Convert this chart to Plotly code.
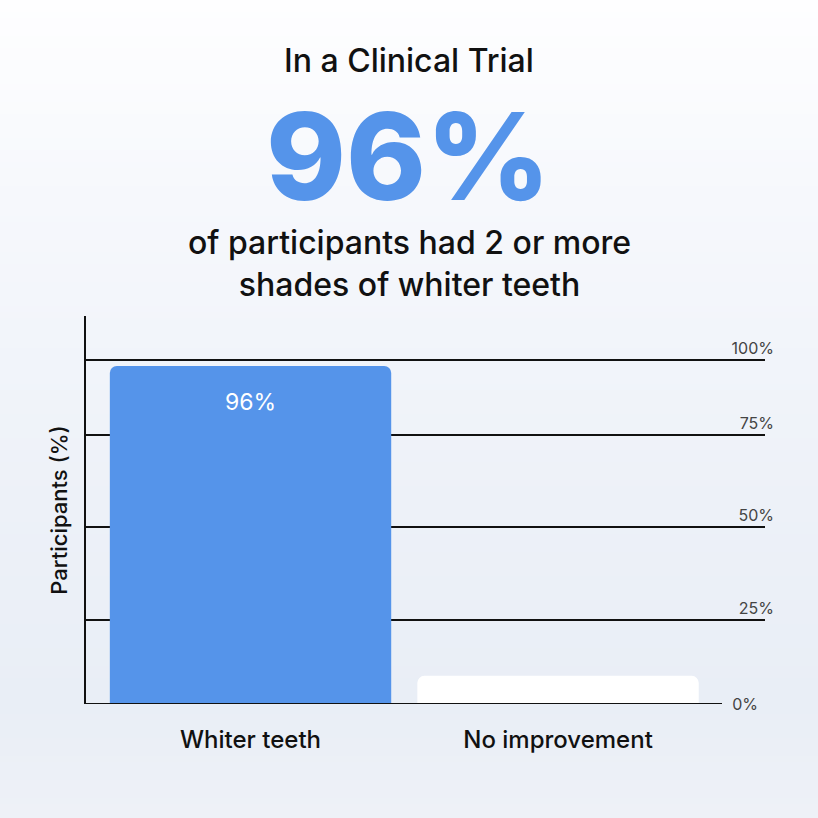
import plotly.graph_objects as go

CATEGORIES = ["Whiter teeth", "No improvement"]
PARTICIPANTS = [96, 8]
BAR_LABELS = ["96%", ""]
BAR_COLORS = ["#5594EA", "#FFFFFF"]

GRID_VALUES = [0, 23.9, 50.3, 76.4, 97.7]
GRID_TEXT = ["0%", "25%", "50%", "75%", "100%"]

TITLE = "In a Clinical Trial"
HEADLINE = "96%"
SUBTITLE = "of participants had 2 or more<br>shades of whiter teeth"

WIDTH = 818
HEIGHT = 818
PLOT_TOP = 316
PLOT_BOTTOM = 704
PLOT_LEFT = 86
PLOT_RIGHT = 765
FONT = "Inter, 'Noto Sans', Arial, sans-serif"

# background gradient stops: (pixel y, rgb)
BG_STOPS = [
    (0, (254, 254, 255)),
    (200, (246, 248, 252)),
    (500, (237, 241, 248)),
    (700, (233, 238, 246)),
    (818, (238, 241, 247)),
]


def py(pixel):
    return (PLOT_BOTTOM - pixel) / (PLOT_BOTTOM - PLOT_TOP)


def px(pixel):
    return (pixel - PLOT_LEFT) / (PLOT_RIGHT - PLOT_LEFT)


def bg_color(pixel):
    for (y0, c0), (y1, c1) in zip(BG_STOPS, BG_STOPS[1:]):
        if y0 <= pixel <= y1:
            t = (pixel - y0) / (y1 - y0)
            rgb = [round(a + (b - a) * t) for a, b in zip(c0, c1)]
            return f"rgb({rgb[0]},{rgb[1]},{rgb[2]})"
    return "rgb(238,241,247)"


fig = go.Figure()
fig.add_trace(
    go.Bar(
        x=CATEGORIES,
        y=PARTICIPANTS,
        width=0.915,
        marker={"color": BAR_COLORS, "cornerradius": 7, "line": {"width": 0}},
        hoverinfo="skip",
        showlegend=False,
    )
)
# invisible companions so the right-hand label axes render
for axis in ("y2", "y3"):
    fig.add_trace(
        go.Scatter(
            x=CATEGORIES,
            y=PARTICIPANTS,
            yaxis=axis,
            mode="markers",
            marker={"opacity": 0},
            hoverinfo="skip",
            showlegend=False,
        )
    )

shapes = []
step = 6
for top in range(0, HEIGHT, step):
    shapes.append(
        {
            "type": "rect",
            "xref": "paper",
            "yref": "paper",
            "x0": px(0),
            "x1": px(WIDTH),
            "y0": py(top + step + 1),
            "y1": py(top),
            "fillcolor": bg_color(top + step / 2),
            "line": {"width": 0},
            "layer": "below",
        }
    )
# baseline stops short of the 0% label
shapes.append(
    {
        "type": "line",
        "xref": "paper",
        "yref": "y",
        "x0": 0,
        "x1": px(722),
        "y0": 0,
        "y1": 0,
        "line": {"color": "#111111", "width": 2},
        "layer": "above",
    }
)

header = {"xref": "paper", "yref": "paper", "xanchor": "center", "yanchor": "middle", "showarrow": False}
annotations = [
    {
        **header,
        "text": TITLE,
        "x": px(409),
        "y": py(61),
        "font": {"family": FONT, "size": 32, "color": "#111111", "weight": 500},
    },
    {
        **header,
        "text": HEADLINE,
        "x": px(408),
        "y": py(156),
        "font": {"family": FONT, "size": 121, "color": "#5594EA", "weight": 800},
    },
    {
        **header,
        "text": SUBTITLE,
        "x": px(409),
        "y": py(263),
        "font": {"family": FONT, "size": 32, "color": "#111111", "weight": 500},
    },
]
for category, value, label in zip(CATEGORIES, PARTICIPANTS, BAR_LABELS):
    if label:
        annotations.append(
            {
                "text": label,
                "x": category,
                "y": value,
                "xref": "x",
                "yref": "y",
                "yanchor": "middle",
                "yshift": -36,
                "showarrow": False,
                "font": {"family": FONT, "size": 23, "color": "#FFFFFF"},
            }
        )

y_range = [0, 110.2]
fig.update_layout(
    width=WIDTH,
    height=HEIGHT,
    margin={"l": PLOT_LEFT, "r": WIDTH - PLOT_RIGHT, "t": PLOT_TOP, "b": HEIGHT - PLOT_BOTTOM, "pad": 0},
    paper_bgcolor="#F4F6FA",
    plot_bgcolor="rgba(0,0,0,0)",
    font={"family": FONT, "color": "#111111"},
    shapes=shapes,
    annotations=annotations,
    showlegend=False,
    xaxis={
        "type": "category",
        "range": [-0.535, 1.673],
        "showgrid": False,
        "zeroline": False,
        "showline": False,
        "ticks": "",
        "ticklabelstandoff": 19,
        "tickfont": {"family": FONT, "size": 24, "color": "#111111", "weight": 500},
        "fixedrange": True,
    },
    yaxis={
        "range": y_range,
        "tickvals": GRID_VALUES,
        "showticklabels": False,
        "ticks": "",
        "showgrid": True,
        "gridcolor": "#111111",
        "gridwidth": 1.5,
        "zeroline": False,
        "showline": True,
        "linecolor": "#111111",
        "linewidth": 2,
        "title": {
            "text": "Participants (%)",
            "standoff": 10,
            "font": {"family": FONT, "size": 22, "color": "#111111", "weight": 500},
        },
    },
    yaxis2={
        "overlaying": "y",
        "side": "right",
        "range": y_range,
        "tickvals": GRID_VALUES[1:],
        "ticktext": GRID_TEXT[1:],
        "ticks": "",
        "ticklabelposition": "inside top",
        "ticklabelstandoff": -12,
        "ticklabeloverflow": "allow",
        "showgrid": False,
        "zeroline": False,
        "showline": False,
        "tickfont": {"family": FONT, "size": 16, "color": "#444444"},
    },
    yaxis3={
        "overlaying": "y",
        "side": "right",
        "range": y_range,
        "tickvals": GRID_VALUES[:1],
        "ticktext": GRID_TEXT[:1],
        "ticks": "",
        "ticklabelposition": "inside",
        "ticklabelstandoff": 4,
        "ticklabeloverflow": "allow",
        "showgrid": False,
        "zeroline": False,
        "showline": False,
        "tickfont": {"family": FONT, "size": 16, "color": "#444444"},
    },
)

fig.write_html(
    "out.html",
    config={"displayModeBar": False},
    post_script="document.body.style.margin = '0';",
)
